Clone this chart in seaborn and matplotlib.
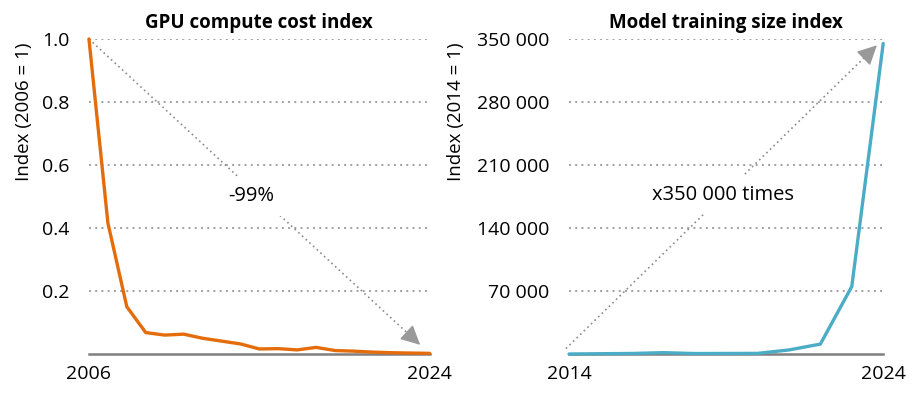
import numpy as np
import pandas as pd
import matplotlib.pyplot as plt
import seaborn as sns

sns.set_theme(style="white")
plt.rcParams['font.family'] = ['Open Sans', 'DejaVu Sans']
plt.rcParams['text.color'] = 'black'
plt.rcParams['axes.labelcolor'] = 'black'
plt.rcParams['axes.titlecolor'] = 'black'

# GPU compute cost index (2006 = 1)
gpu_years = list(range(2006, 2025))
gpu_cost = [1.0, 0.416, 0.15, 0.068, 0.06, 0.063, 0.05, 0.041, 0.032, 0.016,
            0.017, 0.013, 0.021, 0.011, 0.009, 0.006, 0.004, 0.003, 0.002]

# Model training size index (2014 = 1)
model_years = list(range(2014, 2025))
model_size = [1, 300, 600, 1500, 500, 600, 700, 4500, 11000, 75000, 345000]

gpu_yticks = [0.2, 0.4, 0.6, 0.8, 1.0]
model_yticks = [70000, 140000, 210000, 280000, 350000]

orange = "#E46C0A"
teal = "#4BACC6"
grid_c = "#A0A0A0"
arrow_c = "#8C8C8C"

gpu_df = pd.DataFrame({"year": gpu_years, "index": gpu_cost})
model_df = pd.DataFrame({"year": model_years, "index": model_size})

fig = plt.figure(figsize=(9.2, 3.95), dpi=100)
ax1 = fig.add_axes([0.0967, 0.1038, 0.3703, 0.7975])
ax2 = fig.add_axes([0.6185, 0.1038, 0.3415, 0.7975])


def style_axis(ax, xlo, xhi, ymax, yticks, ylabels, title, ylabel):
    ax.set_xlim(xlo, xhi)
    ax.set_ylim(0, ymax)
    ax.set_xticks([xlo, xhi])
    ax.set_xticklabels([str(xlo), str(xhi)])
    ax.set_yticks(yticks)
    ax.set_yticklabels(ylabels)
    ax.tick_params(axis="both", length=0, labelsize=14, colors="black")
    ax.tick_params(axis="y", pad=14)
    ax.tick_params(axis="x", pad=8)
    for s in ["top", "right", "left"]:
        ax.spines[s].set_visible(False)
    ax.spines["bottom"].set_color("#7F7F7F")
    ax.spines["bottom"].set_linewidth(1.8)
    for y in yticks:
        ax.axhline(y, color=grid_c, lw=1.4, ls=(0, (1, 2.2)), zorder=0)
    ax.set_title(title, fontsize=13.5, fontweight="bold", pad=8)
    ax.set_xlabel("")
    ax.set_ylabel(ylabel, fontsize=13.5)


def trend_arrow(ax, start, end):
    # dotted shaft plus a solid grey head
    f = 0.965
    mid = (start[0] + f * (end[0] - start[0]), start[1] + f * (end[1] - start[1]))
    ax.plot([start[0], mid[0]], [start[1], mid[1]], color=arrow_c, lw=1.2,
            ls=(0, (1, 2)), zorder=1, clip_on=False)
    ax.annotate("", xy=end, xytext=mid, annotation_clip=False, zorder=1,
                arrowprops=dict(arrowstyle="-|>,head_length=1.0,head_width=0.5",
                                color="#999999", lw=1.0, shrinkA=0, shrinkB=0))


sns.lineplot(data=gpu_df, x="year", y="index", ax=ax1, color=orange,
             lw=2.4, clip_on=False, zorder=3)
style_axis(ax1, 2006, 2024, 1.0, gpu_yticks,
           [f"{v:.1f}" for v in gpu_yticks],
           "GPU compute cost index", "Index (2006 = 1)")
ax1.yaxis.set_label_coords(-0.165, 0.77)

sns.lineplot(data=model_df, x="year", y="index", ax=ax2, color=teal,
             lw=2.4, clip_on=False, zorder=3)
style_axis(ax2, 2014, 2024, 350000, model_yticks,
           [f"{v:,}".replace(",", " ") for v in model_yticks],
           "Model training size index", "Index (2014 = 1)")
ax2.yaxis.set_label_coords(-0.33, 0.77)

# -99% arrow
trend_arrow(ax1, (2006, 1.0), (2023.5, 0.029))
ax1.text(2014.6, 0.5, "-99%", fontsize=14.5, ha="center", va="center",
         bbox=dict(fc="white", ec="none", pad=7), zorder=2)

# x350 000 arrow
trend_arrow(ax2, (2013.9, 6000), (2023.8, 343000))
ax2.text(2018.9, 177000, "x350 000 times", fontsize=14.5, ha="center",
         va="center", bbox=dict(fc="white", ec="none", pad=7), zorder=2)

fig.savefig("out.png", dpi=100)
